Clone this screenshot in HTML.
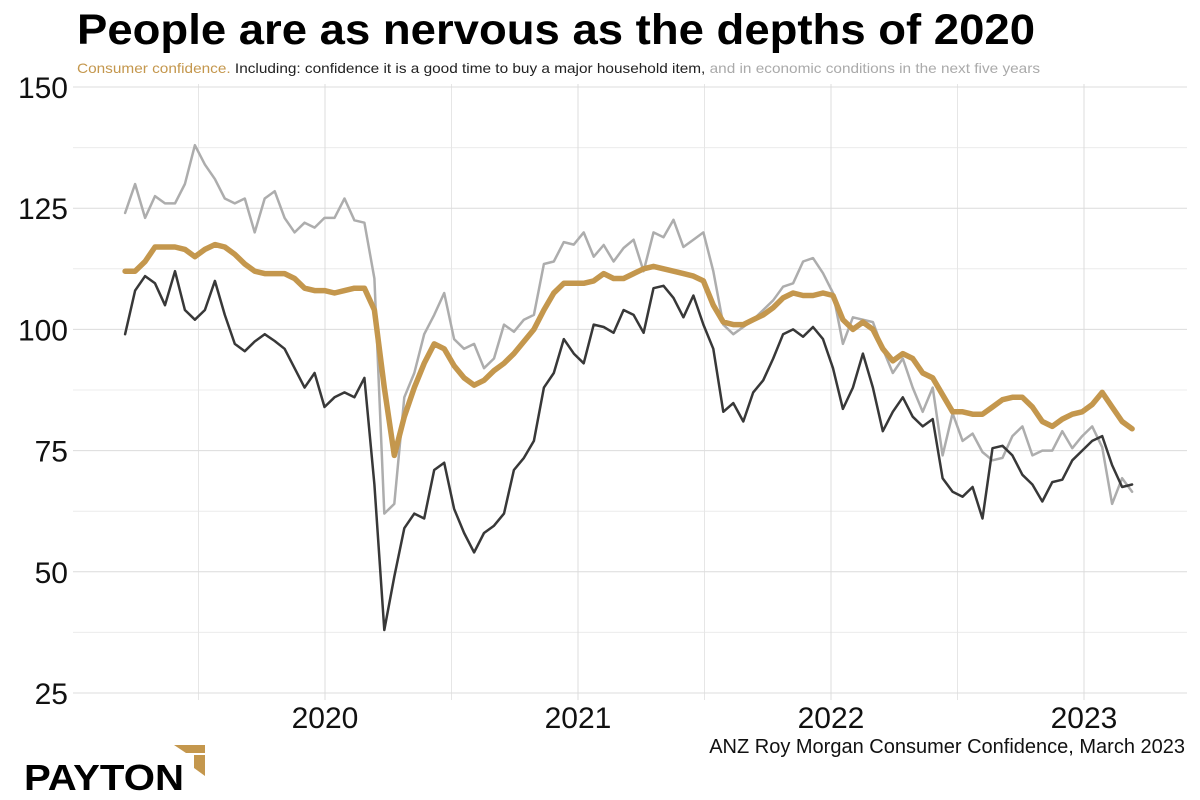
<!DOCTYPE html>
<html><head><meta charset="utf-8"><style>
html,body{margin:0;padding:0;background:#fff;}
svg{display:block;font-family:"Liberation Sans",sans-serif;}
</style></head><body>
<svg id="chart" width="1200" height="800" viewBox="0 0 1200 800">
<text x="77" y="44" font-size="43" font-weight="bold" fill="#000" textLength="958" lengthAdjust="spacingAndGlyphs">People are as nervous as the depths of 2020</text>
<text x="77" y="73" font-size="14" textLength="963" lengthAdjust="spacingAndGlyphs"><tspan fill="#C4974D">Consumer confidence. </tspan><tspan fill="#222">Including: confidence it is a good time to buy a major household item, </tspan><tspan fill="#aaa">and in economic conditions in the next five years</tspan></text>
<g id="grid"></g>
<g id="series"></g>
<text x="1185" y="753" font-size="20" text-anchor="end" fill="#111">ANZ Roy Morgan Consumer Confidence, March 2023</text>
<g>
<text x="24" y="790" font-size="36" font-weight="bold" fill="#000" textLength="160" lengthAdjust="spacingAndGlyphs">PAYTON</text>
<polygon points="174,745 205,745 205,753 186,753" fill="#C4974D"/>
<polygon points="194,755 205,755 205,776 194,768" fill="#C4974D"/>
</g>
</svg>
<script>
const yTicks = [25, 50, 75, 100, 125, 150];
const yMinor = [37.5, 62.5, 87.5, 112.5, 137.5];
const xTicks = [2020, 2021, 2022, 2023];
const startYear = 2019.21;
const endYear = 2023.19;
const confidence = [112,112,114,117,117,117,116.5,115,116.5,117.5,117,115.5,113.5,112,111.5,111.5,111.5,110.5,108.5,108,108,107.5,108,108.5,108.5,104,88,74,82,88,93,97,96,92.5,90,88.5,89.5,91.5,93,95,97.5,100,104,107.5,109.5,109.5,109.5,110,111.5,110.5,110.5,111.5,112.5,113,112.5,112,111.5,111,110,105,101.5,101,101,102,103,104.5,106.5,107.5,107,107,107.5,107,102,100,101.5,100,96,93.5,95,94,91,90,86.5,83,83,82.5,82.5,84,85.5,86,86,84,81,80,81.5,82.5,83,84.5,87,84,81,79.5];
const economic = [124,130,123,127.5,126,126,130,138,134,131,127,126,127,120,127,128.5,123,120,122,121,123,123,127,122.5,122,110.5,62,64,86,91,99,103,107.5,98,96,97,92,94,101,99.5,102,103,113.5,114,118,117.5,120,115,117.4,114,116.8,118.5,112,120,119,122.6,117,118.5,120,112,101,99,100.5,102,104,106,108.8,109.5,114,114.7,111.6,107.5,97,102.5,102,101.5,96,91,94,88,83,88,74,82.7,77,78.5,74.7,73,73.5,78,80,74,75,75,79,75.5,78,80,75.7,64,69.3,66.5];
const household = [99,108,111,109.5,105,112,104,102,104,110,103,97,95.5,97.5,99,97.6,96,92,88,91,84,86,87,86,90,68,38,49,59,62,61,71,72.5,63,58,54,58,59.5,62,71,73.5,77,88,91,98,95,93,101,100.5,99.3,104,103,99.3,108.5,109,106.5,102.5,107,101,96,83,84.8,81,87,89.5,94,99,100,98.5,100.5,98,92,83.6,88,95,88,79,83,86,82,80,81.5,69.3,66.5,65.5,67.5,61,75.5,76,74,70,68,64.5,68.5,69,73,75,77,78,72,67.5,68];

const NS = "http://www.w3.org/2000/svg";
const plotL = 73, plotR = 1187;
function xScale(t){ return 325 + (t - 2020) * 253; }
function yScale(v){ return 87 + (150 - v) * (606 / 125); }
function dateAt(i, n){ return startYear + i * (endYear - startYear) / (n - 1); }
function mk(tag, attrs){ const e = document.createElementNS(NS, tag); for (const k in attrs) e.setAttribute(k, attrs[k]); return e; }

const grid = document.getElementById('grid');
yMinor.forEach(v => {
  const l = mk('line', {x1: plotL, x2: plotR, y1: yScale(v), y2: yScale(v), stroke: '#ececec', 'stroke-width': 1});
  
  
  grid.appendChild(l);
});
for (let t = 2019.5; t <= 2023.01; t += 0.5) {
  const l = mk('line', {x1: xScale(t), x2: xScale(t), y1: 84, y2: 700, stroke: (t % 1 === 0) ? '#dcdcdc' : '#e6e6e6', 'stroke-width': 1});
  
  
  grid.appendChild(l);
}
yTicks.forEach(v => {
  const l = mk('line', {x1: plotL, x2: plotR, y1: yScale(v), y2: yScale(v), stroke: '#dcdcdc', 'stroke-width': 1});
  
  
  grid.appendChild(l);
  const tx = mk('text', {x: 68, y: yScale(v) + 11, 'font-size': 30, 'text-anchor': 'end', fill: '#111'});
  tx.textContent = v;
  
  
  grid.appendChild(tx);
});
xTicks.forEach(t => {
  const tx = mk('text', {x: xScale(t), y: 728, 'font-size': 30, 'text-anchor': 'middle', fill: '#111'});
  tx.textContent = t;
  
  
  grid.appendChild(tx);
});

const series = document.getElementById('series');
function drawLine(vals, color, w, name){
  const pts = vals.map((v, i) => xScale(dateAt(i, vals.length)).toFixed(1) + ',' + yScale(v).toFixed(1)).join(' ');
  const p = mk('polyline', {points: pts, fill: 'none', stroke: color, 'stroke-width': w, 'stroke-linejoin': 'round', 'stroke-linecap': 'round'});
  
  
  series.appendChild(p);
}
drawLine(economic, '#adadad', 2.5, 'economic-conditions-line');
drawLine(household, '#383838', 2.5, 'household-item-line');
drawLine(confidence, '#C4974D', 5.5, 'consumer-confidence-line');
</script>
</body></html>
